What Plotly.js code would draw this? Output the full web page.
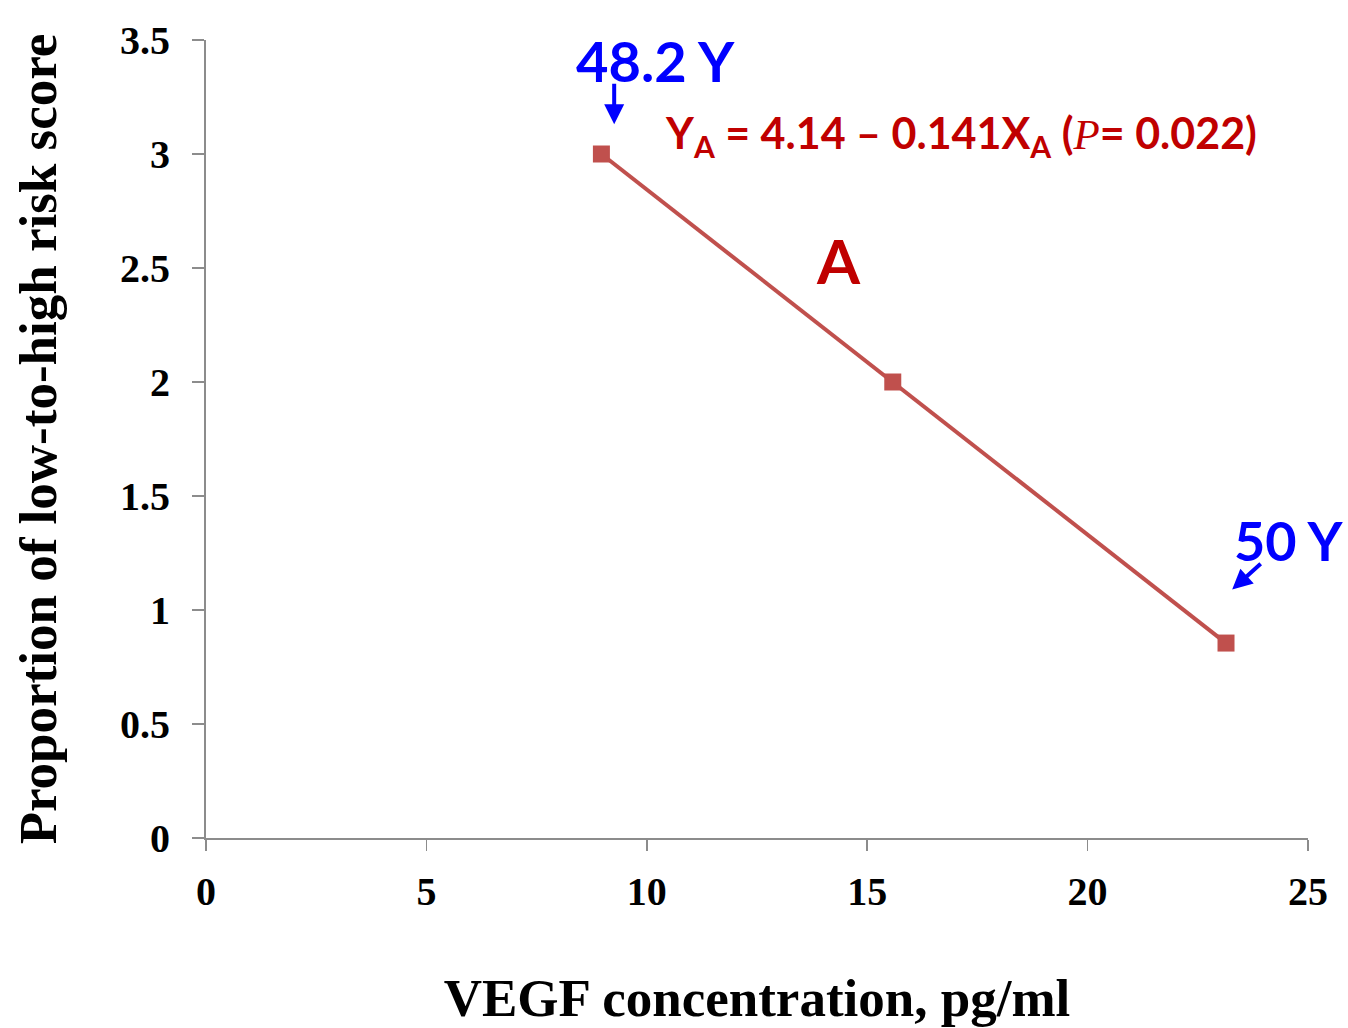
<!DOCTYPE html>
<html>
<head>
<meta charset="utf-8">
<script src="https://cdn.plot.ly/plotly-3.0.1.min.js"></script>
<style>html,body{margin:0;padding:0;background:#fff}#chart{width:1348px;height:1028px}</style>
</head>
<body>
<div id="chart"></div>
<script>
var vegf = [8.97, 15.58, 23.14];
var proportion = [3.0, 2.0, 0.855];
var xTicks = [0, 5, 10, 15, 20, 25];
var yTicks = [0, 0.5, 1, 1.5, 2, 2.5, 3, 3.5];
var yTickLabels = ['0', '0.5', '1', '1.5', '2', '2.5', '3', '3.5'];

var trace = {
  x: vegf, y: proportion, type: 'scatter', mode: 'lines+markers',
  line: {color: '#C0504D', width: 4},
  marker: {symbol: 'square', size: 17, color: '#C0504D'},
  hoverinfo: 'skip'
};

var serif = 'Liberation Serif, Times New Roman, serif';
var tickFont = {family: serif, size: 40, color: '#000', weight: 'bold'};
var annFont = 'Lato, Open Sans, sans-serif';

var layout = {
  width: 1348, height: 1028,
  margin: {l: 206, r: 40, t: 40, b: 190},
  paper_bgcolor: '#fff', plot_bgcolor: '#fff',
  showlegend: false,
  xaxis: {
    range: [0, 25], tickvals: xTicks, ticktext: xTicks.map(String),
    ticks: 'outside', ticklen: 11, tickwidth: 1.5, tickcolor: '#8c8c8c',
    showline: true, linecolor: '#8c8c8c', linewidth: 2,
    showgrid: false, zeroline: false,
    tickfont: tickFont, ticklabelstandoff: 6,
    title: {text: '<b>VEGF concentration, pg/ml</b>', font: {family: serif, size: 53, color: '#000'}, standoff: 66}
  },
  yaxis: {
    range: [0, 3.5], tickvals: yTicks, ticktext: yTickLabels,
    ticks: 'outside', ticklen: 12, tickwidth: 1.5, tickcolor: '#8c8c8c',
    showline: true, linecolor: '#8c8c8c', linewidth: 2,
    showgrid: false, zeroline: false,
    tickfont: tickFont, ticklabelstandoff: 14,
    title: {text: '<b>Proportion of low-to-high risk score</b>', font: {family: serif, size: 53, color: '#000'}, standoff: 46}
  },
  annotations: [
    {xref: 'paper', yref: 'paper', x: (655-206)/1102, y: (838-60)/798, text: '<b>48.2 Y</b>', showarrow: false,
     font: {family: annFont, size: 56, color: '#0000FF'}, xanchor: 'center', yanchor: 'middle'},
    {x: 9.26, y: 3.13, text: '', showarrow: true, arrowhead: 2, arrowsize: 1, arrowwidth: 4, arrowcolor: '#0000FF', ax: 0, ay: -42},
    {xref: 'paper', yref: 'paper', x: (663-206)/1102, y: (838-135)/798,
     text: '<b>Y<sub>A</sub> = 4.14 – 0.141X<sub>A</sub> (<span style="font-family:Liberation Serif;font-style:italic;font-weight:normal">P</span>= 0.022)</b>', showarrow: false,
     font: {family: annFont, size: 43, color: '#C00000'}, xanchor: 'left', yanchor: 'middle'},
    {xref: 'paper', yref: 'paper', x: (838-206)/1102, y: (838-260)/798, text: '<b>A</b>', showarrow: false,
     font: {family: annFont, size: 62, color: '#C00000'}, xanchor: 'center', yanchor: 'middle'},
    {xref: 'paper', yref: 'paper', x: (1289-206)/1102, y: (838-540)/798, text: '<b>50 Y</b>', showarrow: false,
     font: {family: annFont, size: 54, color: '#0000FF'}, xanchor: 'center', yanchor: 'middle'},
    {x: 23.28, y: 1.09, text: '', showarrow: true, arrowhead: 2, arrowsize: 1, arrowwidth: 4, arrowcolor: '#0000FF', ax: 30, ay: -27}
  ]
};

Plotly.newPlot('chart', [trace], layout, {displayModeBar: false, staticPlot: true});
</script>
</body>
</html>
